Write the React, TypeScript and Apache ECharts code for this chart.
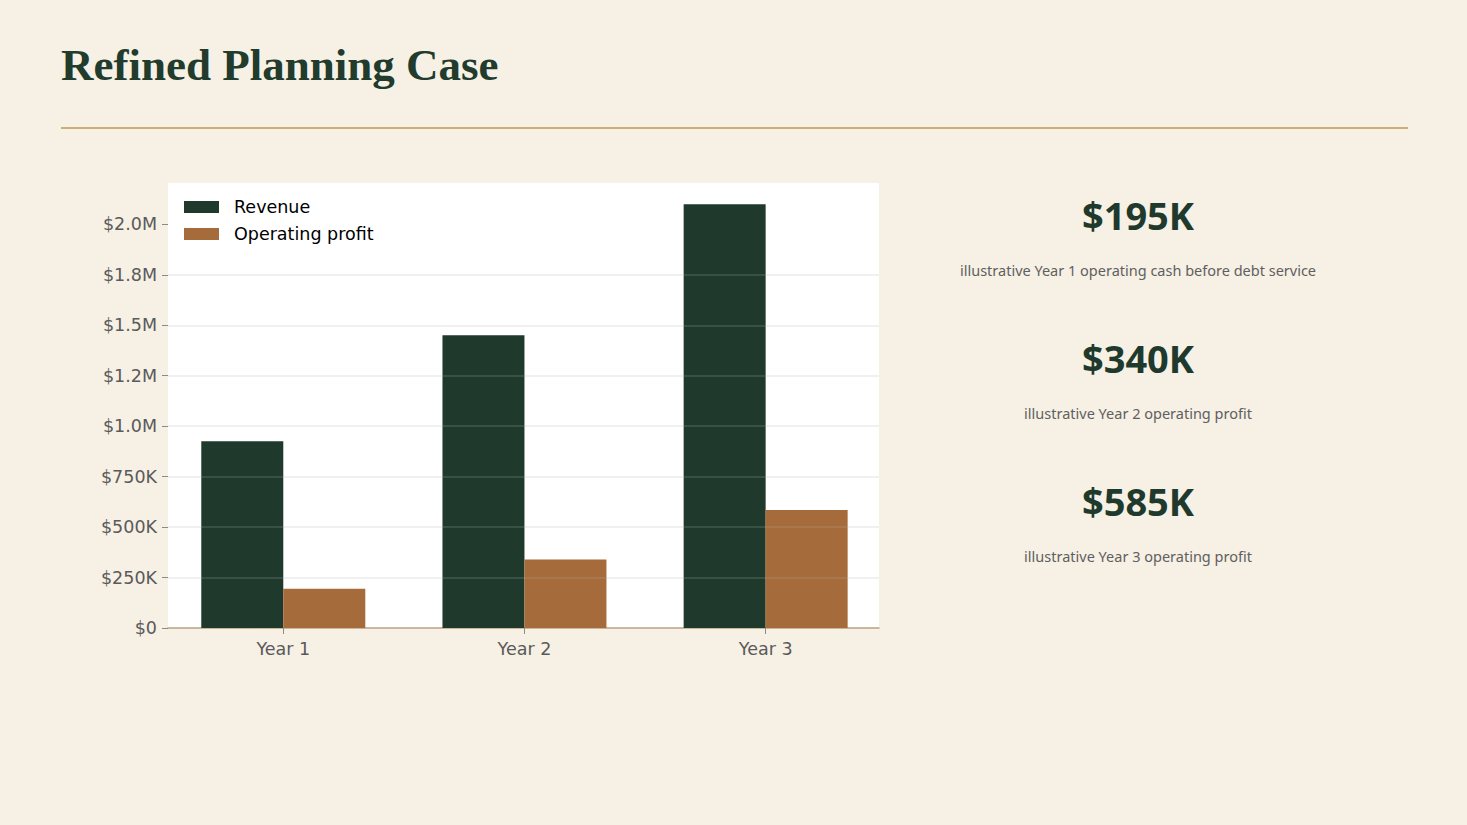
import * as echarts from 'echarts';
import React, { useEffect, useRef } from 'react';

const categories = ['Year 1', 'Year 2', 'Year 3'];
const revenue = [925000, 1450000, 2100000];
const operatingProfit = [195000, 340000, 585000];
const yTickLabels = ['$0', '$250K', '$500K', '$750K', '$1.0M', '$1.2M', '$1.5M', '$1.8M', '$2.0M'];
const yStep = 250000;
const kpiValues = ['$195K', '$340K', '$585K'];
const kpiNotes = [
  'illustrative Year 1 operating cash before debt service',
  'illustrative Year 2 operating profit',
  'illustrative Year 3 operating profit',
];

const GREEN = '#1f3a2d';
const BROWN = '#a66b3a';
const BG = '#f6f0e5';
const TICK = '#5a5a5a';

const App: React.FC = () => {
  const chartRef = useRef<HTMLDivElement>(null);

  useEffect(() => {
    document.body.style.margin = '0';
    if (!chartRef.current) return;
    const chart = echarts.init(chartRef.current, null, { renderer: 'svg' });

    const yTickValues = yTickLabels.map((_, i) => i * yStep);
    const xTickValues = categories.map((_, i) => i);

    const kpiGraphics: any[] = [];
    kpiValues.forEach((v, i) => {
      kpiGraphics.push({
        type: 'text',
        x: 1138,
        y: 215 + i * 143,
        style: {
          text: v,
          fill: GREEN,
          font: 'bold 38px "Noto Sans"',
          textAlign: 'center',
          textVerticalAlign: 'middle',
        },
      });
      kpiGraphics.push({
        type: 'text',
        x: 1138,
        y: 270 + i * 143,
        style: {
          text: kpiNotes[i],
          fill: '#5f5f5f',
          font: '14.5px "Noto Sans"',
          textAlign: 'center',
          textVerticalAlign: 'middle',
        },
      });
    });

    chart.setOption({
      animation: false,
      backgroundColor: BG,
      textStyle: { fontFamily: '"DejaVu Sans"' },
      grid: {
        left: 168,
        top: 183,
        width: 711,
        height: 445,
        show: true,
        backgroundColor: '#ffffff',
        borderWidth: 0,
      },
      legend: {
        left: 184,
        top: 198,
        padding: 0,
        orient: 'vertical',
        itemWidth: 35,
        itemHeight: 12,
        itemGap: 9,
        textStyle: {
          color: '#000000',
          fontSize: 17.5,
          fontFamily: '"DejaVu Sans"',
          padding: [0, 0, 0, 10],
        },
        data: [
          { name: 'Revenue', icon: 'rect' },
          { name: 'Operating profit', icon: 'rect' },
        ],
      },
      xAxis: {
        type: 'value',
        min: -0.478,
        max: 2.47,
        splitLine: { show: false },
        axisLine: { show: true, onZero: false, lineStyle: { color: '#b8a47e', width: 1.5 } },
        axisTick: {
          show: true,
          customValues: xTickValues,
          length: 6,
          lineStyle: { color: '#8a8a8a' },
        },
        axisLabel: {
          customValues: xTickValues,
          formatter: (v: number) => categories[Math.round(v)] ?? '',
          color: TICK,
          fontSize: 17.5,
          margin: 12,
        },
      },
      yAxis: {
        type: 'value',
        min: 0,
        max: 2205000,
        interval: yStep,
        z: 3,
        axisLine: { show: false, onZero: false },
        axisTick: {
          show: true,
          customValues: yTickValues,
          length: 6,
          lineStyle: { color: '#8a8a8a' },
        },
        axisLabel: {
          customValues: yTickValues,
          formatter: (v: number) => yTickLabels[Math.round(v / yStep)] ?? '',
          color: TICK,
          fontSize: 17.5,
          margin: 11,
        },
        splitLine: {
          show: true,
          showMinLine: false,
          showMaxLine: false,
          lineStyle: { color: 'rgba(180,180,180,0.25)', width: 1.5 },
        },
      },
      series: [
        {
          name: 'Revenue',
          type: 'bar',
          barWidth: 82,
          barGap: '0%',
          itemStyle: { color: GREEN },
          data: revenue.map((v, i) => [i, v]),
        },
        {
          name: 'Operating profit',
          type: 'bar',
          barWidth: 82,
          barGap: '0%',
          itemStyle: { color: BROWN },
          data: operatingProfit.map((v, i) => [i, v]),
        },
      ],
      graphic: [
        {
          type: 'text',
          x: 61,
          y: 65,
          style: {
            text: 'Refined Planning Case',
            fill: '#213b2d',
            font: 'bold 45px "Liberation Serif"',
            textVerticalAlign: 'middle',
          },
        },
        {
          type: 'line',
          shape: { x1: 61, y1: 128, x2: 1408, y2: 128 },
          style: { stroke: '#cfae74', lineWidth: 2 },
        },
        ...kpiGraphics,
      ],
    });

    return () => {
      chart.dispose();
    };
  }, []);

  return <div ref={chartRef} style={{ width: 1467, height: 825 }} />;
};

export default App;
